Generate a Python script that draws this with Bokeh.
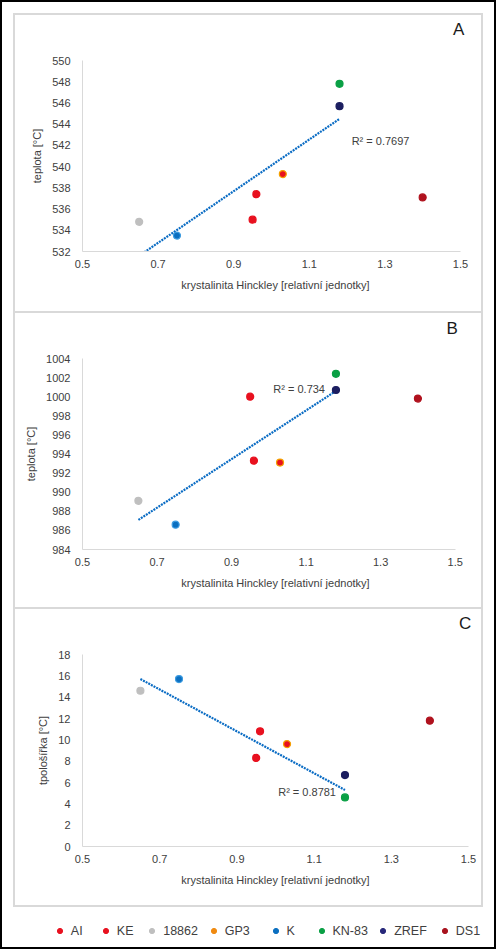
from bokeh.plotting import figure
from bokeh.models import (ColumnDataSource, Range1d, FixedTicker, Label, Legend, LegendItem,
                          LinearAxis)
from bokeh.layouts import column, row
from bokeh.embed import file_html
from bokeh.resources import INLINE

# ---------------- data ----------------
series = ["AI", "KE", "18862", "GP3", "K", "KN-83", "ZREF", "DS1"]
hinckley = [0.95, 0.96, 0.65, 1.03, 0.75, 1.18, 1.18, 1.40]
teplota_a = [535.0, 537.4, 534.8, 539.3, 533.5, 547.8, 545.7, 537.1]
teplota_b = [1000.0, 993.3, 989.1, 993.1, 986.6, 1002.4, 1000.7, 999.8]
polosirka_c = [8.3, 10.8, 14.6, 9.6, 15.7, 4.6, 6.7, 11.8]

trend_x = [0.65, 1.18]
trend_a = [531.6, 544.5]
trend_b = [987.1, 1000.6]
trend_c = [15.7, 5.3]

r2_a = "R² = 0.7697"
r2_b = "R² = 0.734"
r2_c = "R² = 0.8781"

x_ticks = [0.5, 0.7, 0.9, 1.1, 1.3, 1.5]
y_ticks_a = [532, 534, 536, 538, 540, 542, 544, 546, 548, 550]
y_ticks_b = [984, 986, 988, 990, 992, 994, 996, 998, 1000, 1002, 1004]
y_ticks_c = [0, 2, 4, 6, 8, 10, 12, 14, 16, 18]

x_title = "krystalinita Hinckley [relativní jednotky]"
y_title_a = "teplota [°C]"
y_title_b = "teplota [°C]"
y_title_c = "tpološířka [°C]"
panel_letters = ["A", "B", "C"]

# ---------------- styles / layout ----------------
fill_colors = ["#E8111F", "#E8111F", "#BFBFBF", "#E8111F", "#0B6FC0", "#0AA045", "#1C1E60", "#B0121E"]
line_colors = ["#E8111F", "#E8111F", "#BFBFBF", "#F5A000", "#3C9BE0", "#0AA045", "#1C1E60", "#B0121E"]
legend_colors = ["#E8111F", "#E8111F", "#BFBFBF", "#F08A10", "#0B6FC0", "#0AA045", "#27287A", "#A8121E"]
legend_centers = [59.3, 105.3, 151.7, 213.3, 275.0, 321.0, 382.7, 444.3]

FONT = "Liberation Sans"
TEXT = "#404040"
PW = 466            # panel element width (page x 15..481)
FL = 67             # frame left inside panel
FR = 13             # border right of frame
PANEL_SHADOW = "0 0 0 2px #D9D9D9"

src = ColumnDataSource(dict(series=series, x=hinckley, a=teplota_a, b=teplota_b,
                            c=polosirka_c, fc=fill_colors, lc=line_colors))


def make_panel(height, frame_top, frame_h, x_end, yr, yticks, ytitle, ycol, trend_y,
               letter, letter_x, letter_standoff, r2, r2_pos, margin):
    p = figure(width=PW, height=height, output_backend="svg", toolbar_location=None,
               title=None,
               x_range=Range1d(0.5, x_end), y_range=Range1d(*yr),
               min_border_left=FL, min_border_right=FR,
               min_border_top=frame_top, min_border_bottom=height - frame_top - frame_h,
               styles={"box-shadow": PANEL_SHADOW}, margin=margin)
    p.outline_line_color = None
    p.grid.visible = False
    p.background_fill_color = "white"
    p.border_fill_color = "white"

    for ax in (p.xaxis[0], p.yaxis[0]):
        ax.axis_line_color = "#D9D9D9"
        ax.axis_line_width = 1
        ax.major_tick_line_color = None
        ax.minor_tick_line_color = None
        ax.major_tick_out = 0
        ax.major_tick_in = 0
        ax.major_label_text_font = FONT
        ax.major_label_text_font_size = "11px"
        ax.major_label_text_color = TEXT
        ax.axis_label_text_font = FONT
        ax.axis_label_text_font_size = "11px"
        ax.axis_label_text_font_style = "normal"
        ax.axis_label_text_color = TEXT
    p.xaxis.ticker = FixedTicker(ticks=x_ticks)
    p.xaxis.bounds = (x_ticks[0], x_ticks[-1])
    p.yaxis.ticker = FixedTicker(ticks=yticks)
    p.xaxis.axis_label = x_title
    p.yaxis.axis_label = ytitle
    p.xaxis.major_label_standoff = 8
    p.xaxis.axis_label_standoff = 8
    p.yaxis.major_label_standoff = 12
    p.yaxis.axis_label_standoff = 6

    # panel letter (A/B/C) shown as the single label of an axis above the frame
    top = LinearAxis(ticker=FixedTicker(ticks=[letter_x]),
                     major_label_overrides={letter_x: letter, str(letter_x): letter},
                     axis_line_color=None, major_tick_line_color=None,
                     minor_tick_line_color=None, major_tick_out=0, major_tick_in=0,
                     major_label_standoff=letter_standoff,
                     major_label_text_font=FONT, major_label_text_font_size="17px",
                     major_label_text_color="#1A1A1A")
    p.add_layout(top, "above")

    p.line(trend_x, trend_y, line_color="#0A6CC4", line_width=2.2, line_dash="2 1")
    p.scatter(x="x", y=ycol, source=src, marker="circle", size=7,
              fill_color="fc", line_color="lc", line_width=1.2)
    p.add_layout(Label(x=r2_pos[0], y=r2_pos[1], text=r2, text_font=FONT,
                       text_font_size="11px", text_color=TEXT,
                       text_align="left", text_baseline="middle"))
    return p


pA = make_panel(296, 45, 191, 1.5212, (532, 550), y_ticks_a, y_title_a, "a", trend_a,
                panel_letters[0], 1.495, 22, r2_a, (1.212, 542.4), (15, 0, 0, 15))
pB = make_panel(294, 45, 191, 1.5357, (984, 1004), y_ticks_b, y_title_b, "b", trend_b,
                panel_letters[1], 1.492, 21, r2_b, (1.012, 1000.8), (0, 0, 0, 15))
pC = make_panel(296, 45, 192, 1.5, (0, 18), y_ticks_c, y_title_c, "c", trend_c,
                panel_letters[2], 1.491, 22, r2_c, (1.007, 5.13), (0, 0, 0, 15))

# ---------------- legend strip ----------------
LW, LH = 492, 40
lp = figure(width=LW, height=LH, output_backend="svg", toolbar_location=None,
            x_range=Range1d(0, 1), y_range=Range1d(0, 1),
            x_axis_type=None, y_axis_type=None, min_border=0)
lp.outline_line_color = None
lp.grid.visible = False
lp.background_fill_color = "white"
lp.border_fill_color = "white"
for i, name in enumerate(series):
    # points lie outside this strip's ranges: only the legend glyphs are seen
    r = lp.scatter(x=[hinckley[i]], y=[teplota_a[i]], marker="circle", size=6,
                   fill_color=legend_colors[i], line_color=legend_colors[i])
    leg = Legend(items=[LegendItem(label=name, renderers=[r])],
                 location=(legend_centers[i] - 2 - 6.5, 8),
                 orientation="horizontal", padding=0, margin=0, spacing=0,
                 glyph_width=13, glyph_height=17, label_height=17, label_width=10,
                 label_standoff=5, label_text_font=FONT, label_text_font_size="12.5px",
                 label_text_color=TEXT, border_line_color=None, background_fill_alpha=0)
    lp.add_layout(leg)

layout = column(pA, pB, pC, row(lp, margin=(0, 0, 2, 2)), spacing=2,
                width=496, height=949,
                styles={"outline": "2px solid #000000", "outline-offset": "-2px"})

open("out.html", "w").write(file_html(layout, INLINE))
